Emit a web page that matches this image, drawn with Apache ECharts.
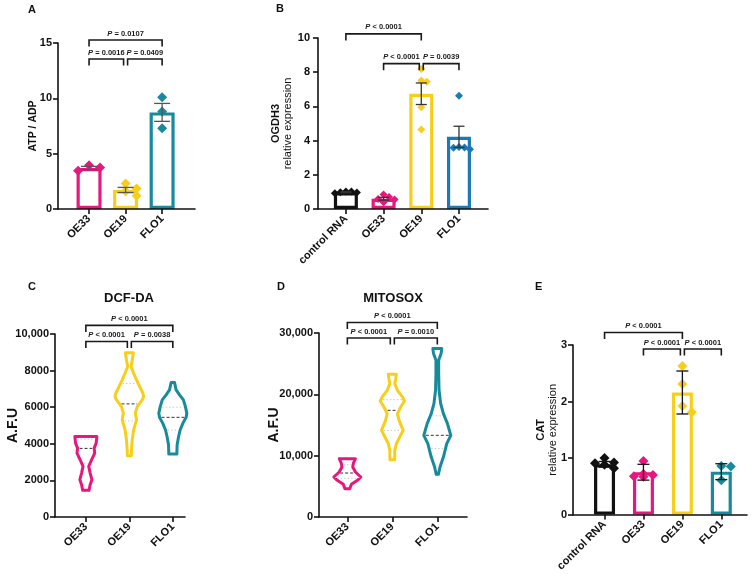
<!DOCTYPE html>
<html>
<head>
<meta charset="utf-8">
<script src="https://cdn.jsdelivr.net/npm/echarts@6/dist/echarts.min.js"></script>
<style>
  html, body { margin: 0; padding: 0; background: #fff; }
  #main { width: 751px; height: 574px; }
</style>
</head>
<body>
<div id="main"></div>
<script>
var FONT = "'Liberation Sans', Arial, Helvetica, sans-serif";
var BLACK = '#111111', PINK = '#e8177d', YELLOW = '#f7cf1b', TEAL = '#178b9c', BLUE = '#1c79b8';

// A - ATP / ADP
var catsA = ['OE33', 'OE19', 'FLO1'];
var meanA = [3.7, 1.72, 8.73];
var errA = [0.15, 0.23, 0.81];
var ptsA = [[3.45, 3.95, 3.75], [2.3, 1.2, 1.85, 1.6], [10.1, 8.8, 7.3]];
var sigA = [[0, 2, 15.27, 'P = 0.0107'], [0, 1, 13.55, 'P = 0.0016'], [1, 2, 13.55, 'P = 0.0409']];

// B - OGDH3
var catsB = ['control RNA', 'OE33', 'OE19', 'FLO1'];
var meanB = [0.98, 0.6, 6.74, 4.22];
var errB = [0.03, 0.08, 0.63, 0.62];
var ptsB = [[0.97, 1.03, 0.98, 1.02, 0.92], [0.85, 0.7, 0.4, 0.55, 0.58], [7.52, 8.18, 7.44, 5.95, 4.65], [6.62, 3.62, 3.6, 3.5, 3.58]];
var sigB = [[0, 2, 10.24, 'P < 0.0001'], [1, 2, 8.5, 'P < 0.0001'], [2, 3, 8.5, 'P = 0.0039']];

// C - DCF-DA violins (value, relative width)
var catsC = ['OE33', 'OE19', 'FLO1'];
var vC_OE33 = [4400, 4036, 3764, 3490, 3127, 2764, 2400, 2036, 1764, 1455];
var dC_OE33 = [0.77, 0.72, 0.58, 0.62, 0.4, 0.2, 0.3, 0.42, 0.3, 0.22];
var vC_OE19 = [8980, 8580, 8218, 7855, 7490, 7127, 6764, 6580, 6400, 6036, 5673, 5310, 4764, 4218, 3673, 3345];
var dC_OE19 = [0.28, 0.2, 0.12, 0.3, 0.5, 0.72, 0.95, 1.0, 0.9, 0.55, 0.42, 0.5, 0.3, 0.2, 0.15, 0.14];
var vC_FLO1 = [7347, 6946, 6672, 6398, 6031, 5665, 5446, 5117, 4752, 4386, 3930, 3437];
var dC_FLO1 = [0.12, 0.23, 0.47, 0.74, 0.88, 0.98, 0.93, 0.7, 0.51, 0.4, 0.3, 0.28];
var medC = [3750, 6180, 5446];
var quartC = [[2900, 4250], [5250, 7300], [4750, 6000]];
var sigC = [[0, 2, 10470, 'P < 0.0001'], [0, 1, 9590, 'P < 0.0001'], [1, 2, 9590, 'P = 0.0038']];

// D - MITOSOX violins
var catsD = ['OE33', 'OE19', 'FLO1'];
var vD_OE33 = [9510, 8800, 8150, 7340, 6520, 5980, 5330, 4620];
var dD_OE33 = [0.6, 0.45, 0.4, 0.6, 1.0, 0.75, 0.3, 0.18];
var vD_OE19 = [23260, 22550, 21740, 20650, 19570, 18910, 17930, 16850, 15760, 14130, 13040, 11960, 10870, 9350];
var dD_OE19 = [0.3, 0.25, 0.18, 0.38, 0.75, 0.9, 0.62, 0.38, 0.5, 0.8, 0.55, 0.3, 0.18, 0.18];
var vD_FLO1 = [27460, 26640, 25550, 23380, 20660, 18480, 16850, 15220, 13320, 11960, 9780, 8150, 6960];
var dD_FLO1 = [0.33, 0.28, 0.1, 0.1, 0.13, 0.25, 0.45, 0.75, 1.0, 0.7, 0.45, 0.2, 0.08];
var medD = [7170, 17390, 13320];
var quartD = [[6300, 8530], [14130, 19130], [11150, 16500]];
var sigD = [[0, 2, 31700, 'P < 0.0001'], [0, 1, 29190, 'P < 0.0001'], [1, 2, 29190, 'P = 0.0010']];

// E - CAT
var catsE = ['control RNA', 'OE33', 'OE19', 'FLO1'];
var meanE = [0.89, 0.75, 2.16, 0.76];
var errE = [0.05, 0.14, 0.38, 0.14];
var ptsE = [[1.0, 0.82, 0.92, 0.91, 0.88], [0.95, 0.7, 0.67, 0.68, 0.72], [2.63, 2.31, 1.81, 1.92], [0.85, 0.86, 0.61]];
var sigE = [[0, 2, 3.22, 'P < 0.0001'], [1, 2, 2.93, 'P < 0.0001'], [2, 3, 2.93, 'P < 0.0001']];

var chart = echarts.init(document.getElementById('main'));

function thousands(v) {
  return String(v).replace(/\B(?=(\d{3})+(?!\d))/g, ',');
}

function xAx(gi, cats, min, max) {
  var idx = cats.map(function (c, i) { return i; });
  return {
    gridIndex: gi, type: 'value', min: min, max: max, z: 10,
    splitLine: { show: false },
    axisLine: { onZero: false, lineStyle: { color: BLACK, width: 1.6 } },
    axisTick: { customValues: idx, length: 5, lineStyle: { color: BLACK, width: 1.6 } },
    axisLabel: {
      customValues: idx, rotate: 45, margin: 8,
      formatter: function (v) { return cats[Math.round(v)]; },
      color: BLACK, fontFamily: FONT, fontWeight: 'bold', fontSize: 11
    }
  };
}

function yAx(gi, max, interval, name, gap, fmt, nameStyle, margin) {
  return {
    gridIndex: gi, type: 'value', min: 0, max: max, interval: interval,
    splitLine: { show: false },
    axisLine: { show: true, onZero: false, lineStyle: { color: BLACK, width: 1.6 } },
    axisTick: { show: true, length: 5, lineStyle: { color: BLACK, width: 1.6 } },
    axisLabel: { formatter: fmt, margin: margin, color: BLACK, fontFamily: FONT, fontWeight: 'bold', fontSize: 11 },
    name: name, nameLocation: 'middle', nameGap: gap, nameRotate: 90, nameMoveOverlap: false,
    nameTextStyle: nameStyle
  };
}

function diamond(cx, cy, s, color) {
  var h = s / 2;
  return { type: 'polygon', shape: { points: [[cx, cy - h], [cx + h, cy], [cx, cy + h], [cx - h, cy]] }, style: { fill: color } };
}

// small beeswarm: spread points that sit too close, within maxK columns each side
function swarm(ys, size, step, maxK) {
  var order = ys.map(function (y, i) { return i; }).sort(function (a, b) { return ys[a] - ys[b]; });
  var placed = [], xs = [];
  order.forEach(function (i) {
    var cands = [0];
    for (var k = 1; k <= maxK; k++) { cands.push(k * step, -k * step); }
    var best = 0, bestScore = -1;
    for (var c = 0; c < cands.length; c++) {
      var score = placed.reduce(function (m, p) {
        return Math.min(m, Math.max(Math.abs(p[0] - cands[c]) / step, Math.abs(p[1] - ys[i]) / (size * 0.7)));
      }, 10);
      if (score >= 0.95) { best = cands[c]; bestScore = score; break; }
      if (score > bestScore) { bestScore = score; best = cands[c]; }
    }
    xs[i] = best;
    placed.push([best, ys[i]]);
  });
  return xs;
}

function barSeries(gi, means, colors, width) {
  return {
    type: 'bar', xAxisIndex: gi, yAxisIndex: gi, barWidth: width, z: 2, silent: true,
    itemStyle: { color: 'rgba(0,0,0,0)', borderWidth: 3.2 },
    data: means.map(function (m, i) { return { value: [i, m], itemStyle: { borderColor: colors[i] } }; })
  };
}

function pointSeries(gi, pts, colors, size, step, maxK) {
  return {
    type: 'custom', xAxisIndex: gi, yAxisIndex: gi, z: 4, silent: true, clip: false,
    data: pts.map(function (g, i) { return [i, g[0]]; }),
    renderItem: function (params, api) {
      var i = params.dataIndex, g = pts[i];
      var cx = api.coord([i, 0])[0];
      var ys = g.map(function (v) { return api.coord([i, v])[1]; });
      var xs = swarm(ys, size, step, maxK);
      return { type: 'group', children: ys.map(function (y, k) { return diamond(cx + xs[k], y, size, colors[i]); }) };
    }
  };
}

function errSeries(gi, means, errs, color, cap) {
  return {
    type: 'custom', xAxisIndex: gi, yAxisIndex: gi, z: 5, silent: true, clip: false,
    data: means.map(function (m, i) { return [i, m, errs[i]]; }),
    renderItem: function (params, api) {
      var i = params.dataIndex;
      var top = api.coord([i, means[i] + errs[i]]);
      var bot = api.coord([i, means[i] - errs[i]]);
      var st = { stroke: color, lineWidth: 1.3 };
      return { type: 'group', children: [
        { type: 'line', shape: { x1: top[0], y1: top[1], x2: bot[0], y2: bot[1] }, style: st },
        { type: 'line', shape: { x1: top[0] - cap / 2, y1: top[1], x2: top[0] + cap / 2, y2: top[1] }, style: st },
        { type: 'line', shape: { x1: bot[0] - cap / 2, y1: bot[1], x2: bot[0] + cap / 2, y2: bot[1] }, style: st }
      ] };
    }
  };
}

function sigSeries(gi, list) {
  return {
    type: 'custom', xAxisIndex: gi, yAxisIndex: gi, z: 6, silent: true, clip: false,
    data: list.map(function (b) { return [b[0], b[2]]; }),
    renderItem: function (params, api) {
      var b = list[params.dataIndex];
      var p1 = api.coord([b[0], b[2]]), p2 = api.coord([b[1], b[2]]);
      var x1 = p1[0], x2 = p2[0], y = p1[1];
      list.forEach(function (o) {
        if (o !== b && o[2] === b[2]) {
          if (o[0] === b[1]) x2 -= 2;
          if (o[1] === b[0]) x1 += 2;
        }
      });
      var leg = 6.5;
      return { type: 'group', children: [
        { type: 'polyline', shape: { points: [[x1, y + leg], [x1, y], [x2, y], [x2, y + leg]] },
          style: { stroke: '#1a1a1a', lineWidth: 1.6, fill: null } },
        { type: 'text', x: (x1 + x2) / 2, y: y - 2.5,
          style: {
            text: '{i|P}' + b[3].slice(1),
            rich: { i: { fontStyle: 'italic', fontWeight: 'bold', fontSize: 7.5, fontFamily: FONT, fill: '#1a1a1a' } },
            fontSize: 7.5, fontWeight: 'bold', fontFamily: FONT, fill: '#1a1a1a',
            align: 'center', verticalAlign: 'bottom'
          } }
      ] };
    }
  };
}

function interp(vals, dens, v) {
  for (var k = 0; k < vals.length - 1; k++) {
    var a = vals[k], b = vals[k + 1];
    if (v <= a && v >= b) {
      var t = (a - v) / (a - b);
      return dens[k] + t * (dens[k + 1] - dens[k]);
    }
  }
  return dens[dens.length - 1];
}

function violinSeries(gi, vals, dens, meds, quarts, colors, maxHw) {
  return {
    type: 'custom', xAxisIndex: gi, yAxisIndex: gi, z: 3, silent: true, clip: false,
    data: meds.map(function (m, i) { return [i, m]; }),
    renderItem: function (params, api) {
      var i = params.dataIndex, vs = vals[i], ds = dens[i];
      var cx = api.coord([i, 0])[0];
      var right = [], left = [];
      vs.forEach(function (v, k) {
        var y = api.coord([i, v])[1], w = ds[k] * maxHw;
        right.push([cx + w, y]);
        left.unshift([cx - w, y]);
      });
      var kids = [];
      function hline(v, stroke, dash) {
        var y = api.coord([i, v])[1], w = interp(vs, ds, v) * maxHw - 2;
        kids.push({ type: 'line', shape: { x1: cx - w, y1: y, x2: cx + w, y2: y },
          style: { stroke: stroke, lineWidth: 1, lineDash: dash } });
      }
      quarts[i].forEach(function (q) { hline(q, 'rgba(120,120,120,0.4)', [1.5, 2]); });
      hline(meds[i], '#333', [3, 2]);
      kids.push({ type: 'polygon', shape: { points: right.concat(left) },
        style: { fill: null, stroke: colors[i], lineWidth: 3, lineJoin: 'round' } });
      return { type: 'group', children: kids };
    }
  };
}

var boldName = { color: BLACK, fontFamily: FONT, fontWeight: 'bold', fontSize: 10.5 };
var bigName = { color: BLACK, fontFamily: FONT, fontWeight: 'bold', fontSize: 14 };
var twoLine = {
  color: BLACK, fontFamily: FONT, fontSize: 11, lineHeight: 12,
  rich: {
    b: { fontFamily: FONT, fontWeight: 'bold', fontSize: 11, lineHeight: 12, color: BLACK },
    r: { fontFamily: FONT, fontWeight: 'normal', fontSize: 11, lineHeight: 12, color: BLACK }
  }
};
var letter = { color: BLACK, fontFamily: FONT, fontWeight: 'bold', fontSize: 11 };
var panelTitle = { color: BLACK, fontFamily: FONT, fontWeight: 'bold', fontSize: 13 };

var colsA = [PINK, YELLOW, TEAL];
var colsB = [BLACK, PINK, YELLOW, BLUE];
var colsV = [PINK, YELLOW, TEAL];
var colsE = [BLACK, PINK, YELLOW, TEAL];

var option = {
  backgroundColor: '#fff',
  animation: false,
  title: [
    { text: 'A', left: 28, top: 4, padding: 0, textStyle: letter },
    { text: 'B', left: 276, top: 3, padding: 0, textStyle: letter },
    { text: 'C', left: 28, top: 281, padding: 0, textStyle: letter },
    { text: 'D', left: 277, top: 281, padding: 0, textStyle: letter },
    { text: 'E', left: 535, top: 281, padding: 0, textStyle: letter },
    { text: 'DCF-DA', left: 129, top: 292, padding: 0, textAlign: 'center', textStyle: panelTitle },
    { text: 'MITOSOX', left: 393, top: 292, padding: 0, textAlign: 'center', textStyle: panelTitle }
  ],
  grid: [
    { left: 58, top: 43, width: 137, height: 166 },
    { left: 318, top: 38, width: 170, height: 171 },
    { left: 55, top: 334, width: 130, height: 183 },
    { left: 319, top: 333, width: 148, height: 184 },
    { left: 573, top: 345, width: 174, height: 172 }
  ],
  xAxis: [
    xAx(0, catsA, -0.85, 2.9),
    xAx(1, catsB, -0.74, 3.77),
    xAx(2, catsC, -0.71, 2.28),
    xAx(3, catsD, -0.63, 2.66),
    xAx(4, catsE, -0.81, 3.66)
  ],
  yAxis: [
    yAx(0, 15, 5, 'ATP / ADP', 19, null, boldName, 6),
    yAx(1, 10, 2, '{b|OGDH3}\n{r|relative expression}', 24, null, twoLine, 8),
    yAx(2, 10000, 2000, 'A.F.U', 35, function (v) { return v >= 10000 ? thousands(v) : String(v); }, bigName, 6),
    yAx(3, 30000, 10000, 'A.F.U', 38, function (v) { return thousands(v); }, bigName, 6),
    yAx(4, 3, 1, '{b|CAT}\n{r|relative expression}', 14, null, twoLine, 6)
  ],
  series: [
    barSeries(0, meanA, colsA, 25),
    pointSeries(0, ptsA, colsA, 10, 11, 1),
    errSeries(0, meanA, errA, '#555', 16),
    sigSeries(0, sigA),

    barSeries(1, meanB, colsB, 24),
    pointSeries(1, ptsB, colsB, 8, 5.5, 2),
    errSeries(1, meanB, errB, '#333', 11),
    sigSeries(1, sigB),

    violinSeries(2, [vC_OE33, vC_OE19, vC_FLO1], [dC_OE33, dC_OE19, dC_FLO1], medC, quartC, colsV, 14.3),
    sigSeries(2, sigC),

    violinSeries(3, [vD_OE33, vD_OE19, vD_FLO1], [dD_OE33, dD_OE19, dD_FLO1], medD, quartD, colsV, 13.5),
    sigSeries(3, sigD),

    barSeries(4, meanE, colsE, 21),
    pointSeries(4, ptsE, colsE, 10, 9.5, 1),
    errSeries(4, meanE, errE, '#111', 12),
    sigSeries(4, sigE)
  ]
};

chart.setOption(option);
</script>
</body>
</html>
